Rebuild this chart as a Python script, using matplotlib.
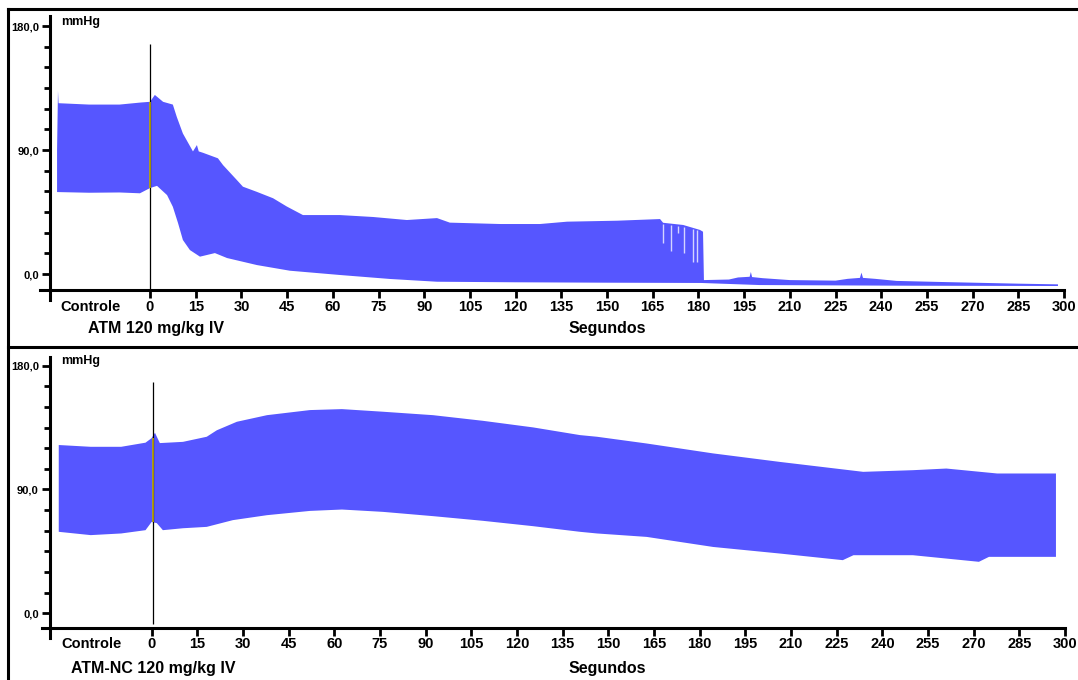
import numpy as np
import matplotlib
matplotlib.use("Agg")
import matplotlib.pyplot as plt
from matplotlib.lines import Line2D

plt.rcParams['font.family'] = ['Liberation Sans', 'DejaVu Sans']
plt.rcParams['font.weight'] = 'bold'

# --- data (seconds, mmHg) ---
# top panel: ATM 120 mg/kg IV
atm_up_t = [-30.5, -30.2, -30.0, -20, -10, -3, 0, 1.6, 4.3, 7.5, 8.8, 10.8, 14.1, 15.4, 16.0, 17.4,
            22.3, 24, 28.6, 30.5, 35, 40.4, 44.9, 50.2, 62.3, 73.2, 84.3, 94.2, 98.4, 114.9, 128,
            136.9, 153.3, 167.4, 168.4, 175, 180.5, 181.5, 181.8, 190, 193, 196.8, 197.2, 197.6,
            201, 210, 225, 229, 233, 233.5, 234, 238, 245, 260, 285, 298]
atm_up_v = [90, 133, 124, 123, 123, 124.5, 125, 130, 125, 123, 114, 102, 89, 93.6, 89, 88,
            84, 79, 68, 63.4, 59.7, 55, 49, 42.8, 42.8, 41.4, 39.2, 40.6, 37.3, 36.3, 36.3,
            38, 38.7, 39.9, 37.2, 35.6, 32, 30.7, -4.4, -4, -2.5, -2, 1.5, -2.2,
            -3, -4.4, -4.8, -3.5, -2.8, 1, -2.8, -3.5, -5, -5.8, -7, -7.5]
atm_lo_t = [-30.5, -20, -10, -3.3, 0, 2.3, 5.6, 7.5, 9.2, 10.8, 13.1, 16.4, 21.3, 25.3, 35.1,
            45.9, 62.3, 78.8, 94.2, 120, 150, 181, 200, 250, 298]
atm_lo_v = [59.5, 59, 59.2, 58.6, 62.4, 64, 57.3, 48.8, 37, 24.7, 17.4, 12.6, 15.2, 11.6, 6.5,
            2.4, -0.7, -3.6, -5.6, -6, -6.3, -6.5, -8, -8.5, -8.7]
# dropped beats near the end of the pulsatile trace
atm_drop_t = [168.4, 171.0, 173.3, 175.3, 178.2, 179.5]
atm_drop_v = [22.5, 17, 30, 15, 8.7, 8.7]

# bottom panel: ATM-NC 120 mg/kg IV
nc_up_t = [-30.5, -20, -10, -2, 0, 1.1, 2.7, 10.3, 18.1, 21.4, 28, 37.9, 52, 62.5, 76, 92.4,
           108.8, 125.3, 140.7, 146.3, 162.6, 184.4, 206.4, 233.7, 250, 261, 277.7, 297]
nc_up_v = [122.3, 121, 121, 124, 127.3, 131.2, 123.7, 124.6, 128.3, 133, 139.2, 144, 147.7, 148.4,
           146.5, 144, 139.9, 135.1, 129.5, 128.3, 123.4, 116.2, 110, 102.8, 104, 105.2, 101.6, 101.6]
nc_lo_t = [-30.5, -20, -10, -2, 0, 1.7, 3.7, 10.3, 18.1, 26.7, 37.9, 52, 62.5, 76, 92.4, 108.8,
           125.3, 140.7, 146.3, 162.6, 184.4, 206.4, 227, 230.5, 250, 271.7, 275, 297]
nc_lo_v = [59.2, 56.8, 58, 60.4, 66.4, 65.5, 60.4, 61.8, 62.8, 67.7, 71.3, 74.4, 75.4, 73.7, 70.6,
           67.2, 63.3, 59.2, 58, 55.5, 48.2, 43.4, 38.6, 42.2, 42.2, 37.4, 41, 41]

x_ticks = [-19.6] + list(range(0, 301, 15))
x_labels = ['Controle'] + [str(v) for v in range(0, 301, 15)]
y_major = [0, 90, 180]
y_labels = ['0,0', '90,0', '180,0']

BLUE = '#5656FF'
W, H = 1078, 680
fig = plt.figure(figsize=(W / 100, H / 100), dpi=100)


def px_axes(left, top, right, bottom):
    return fig.add_axes([left / W, 1 - bottom / H, (right - left) / W, (bottom - top) / H])


def style(ax, ylim, yaxis_t):
    ax.set_xlim(-36.1, 300.3)
    ax.set_ylim(*ylim)
    for s in ['top', 'right']:
        ax.spines[s].set_visible(False)
    ax.spines['left'].set_position(('data', yaxis_t))
    ax.spines['left'].set_bounds(ylim[0] - 7.5, ylim[1])
    ax.spines['bottom'].set_bounds(-36.1, 300)
    for s in ['left', 'bottom']:
        ax.spines[s].set_linewidth(2.2)
    ax.set_yticks(y_major)
    ax.set_yticklabels(y_labels, fontsize=8, fontweight='bold')
    ax.set_yticks(np.arange(0, 181, 15), minor=True)
    ax.tick_params(axis='y', which='major', length=6, width=2, pad=2)
    ax.tick_params(axis='y', which='minor', length=4, width=2)
    ax.set_xticks(x_ticks)
    ax.set_xticklabels(x_labels, fontsize=10.5, fontweight='bold')
    ax.tick_params(axis='x', length=6, width=2, pad=1)
    ax.xaxis.get_major_ticks()[0].tick1line.set_visible(False)
    ax.patch.set_alpha(0)


# top panel
ax1 = px_axes(40, 16, 1065, 290)
style(ax1, (-11.6, 187.3), -32.8)
ax1.fill(np.r_[atm_up_t, atm_lo_t[::-1]], np.r_[atm_up_v, atm_lo_v[::-1]], color=BLUE, lw=0)
ax1.vlines(atm_drop_t, atm_drop_v, np.interp(atm_drop_t, atm_up_t, atm_up_v) - 1,
           color='#d4d4ff', lw=1)
ax1.vlines(0, -11.6, 167, color='black', lw=0.9)
ax1.vlines(0, atm_lo_v[4], atm_up_v[6], color='#c0aa00', lw=1.2)

# bottom panel
ax2 = px_axes(41.7, 356.7, 1066, 627.7)
style(ax2, (-10.5, 186.5), -33.4)
ax2.fill(np.r_[nc_up_t, nc_lo_t[::-1]], np.r_[nc_up_v, nc_lo_v[::-1]], color=BLUE, lw=0)
ax2.vlines(0.3, -8, 168, color='black', lw=0.9)
ax2.vlines(0.3, nc_lo_v[4], nc_up_v[4], color='#c0aa00', lw=1.2)

# labels
def ftext(x, y, s, **kw):
    fig.text(x / W, 1 - y / H, s, fontweight='bold', **kw)

ftext(61, 22, 'mmHg', fontsize=9, va='center', ha='left')
ftext(61, 361, 'mmHg', fontsize=9, va='center', ha='left')
ftext(156, 328, 'ATM 120 mg/kg IV', fontsize=11.5, va='center', ha='center')
ftext(607, 328, 'Segundos', fontsize=11.5, va='center', ha='center')
ftext(153, 668, 'ATM-NC 120 mg/kg IV', fontsize=11.5, va='center', ha='center')
ftext(607, 668, 'Segundos', fontsize=11.5, va='center', ha='center')

# panel frames
for xs, ys in [([8, W], [9, 9]), ([8, 8], [9, H]), ([8, W], [347, 347])]:
    fig.add_artist(Line2D([x / W for x in xs], [1 - y / H for y in ys], color='black', lw=2.2))

fig.savefig('out.png', dpi=100)
